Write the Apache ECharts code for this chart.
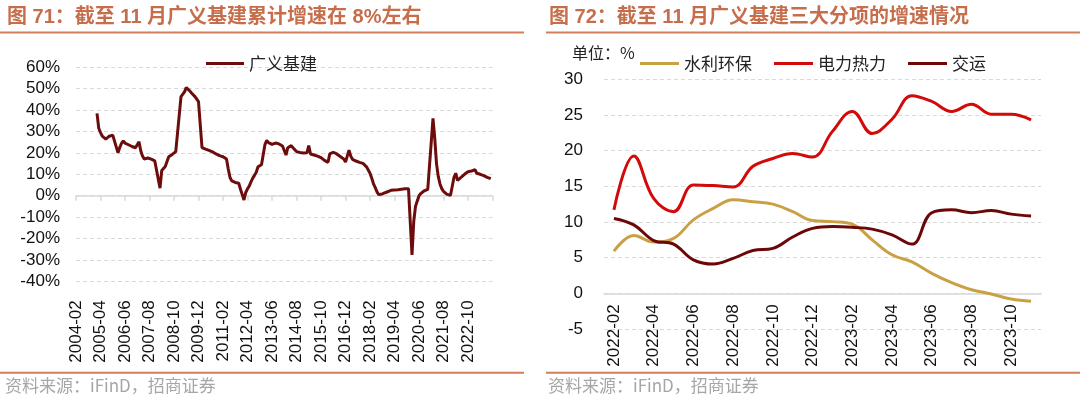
<!DOCTYPE html>
<html>
<head>
<meta charset="utf-8">
<script src="https://cdn.jsdelivr.net/npm/echarts@6/dist/echarts.min.js"></script>
<style>
  html, body { margin: 0; padding: 0; background: #fff; }
  #chart { width: 1080px; height: 398px; }
</style>
</head>
<body>
<div id="chart"></div>
<script>
// left chart: broad infrastructure investment, cumulative yoy (%), monthly 2004-02 .. 2023-12
// January has no cumulative print, so it stays null and the line is joined across it
var infraGrowth = [
    null, null, null, null, null, null, null, null, null, null, null, null,   // 2004-02 .. 2005-01
    38.5, 31.5, 29.5, 27.8, 26.9, 26.4, 26.8, 27.8, 28.0, 28.3, 28.0, null,   // 2005
    20.0, 22.5, 24.5, 25.6, 24.6, 24.0, 23.8, 23.4, 23.0, 22.7, 22.4, null,   // 2006
    25.2, 21.0, 18.5, 17.1, 17.8, 17.6, 17.3, 17.1, 16.8, 16.3, 15.5, null,   // 2007
    3.5, 11.8, 12.5, 13.6, 16.0, 18.2, 19.0, 19.3, 19.8, 20.6, 21.5, null,    // 2008
    46.3, 46.0, 48.5, 50.5, 50.0, 49.0, 48.0, 47.2, 46.3, 45.5, 44.0, null,   // 2009
    22.5, 22.0, 21.8, 21.6, 21.2, 20.8, 20.5, 20.0, 19.5, 19.0, 18.7, null,   // 2010
    18.2, 17.8, 17.1, 12.5, 8.5, 6.9, 6.5, 6.2, 6.0, 5.8, 3.0, null,          // 2011
    -2.0, 1.5, 3.2, 4.5, 6.5, 8.2, 9.5, 11.0, 13.5, 14.2, 14.5, null,         // 2012
    24.0, 25.8, 24.8, 24.3, 24.0, 24.2, 24.6, 25.0, 24.2, 23.5, 23.2, null,   // 2013
    19.0, 22.4, 23.2, 23.4, 22.4, 21.5, 20.6, 20.4, 20.2, 20.1, 20.0, null,   // 2014
    20.1, 23.4, 19.5, 19.2, 19.0, 18.7, 18.5, 18.2, 17.8, 17.0, 16.5, null,   // 2015
    15.6, 19.5, 20.2, 20.3, 20.4, 19.5, 18.8, 18.3, 17.8, 17.2, 15.7, null,   // 2016
    21.3, 18.5, 17.0, 16.5, 16.2, 15.9, 15.6, 15.3, 15.1, 14.5, 13.5, null,   // 2017
    10.5, 8.2, 5.5, 3.8, 1.8, 0.5, 0.3, 0.8, 1.2, 1.5, 1.8, null,             // 2018
    2.5, 2.8, 2.7, 2.7, 2.8, 2.9, 3.0, 3.1, 3.2, 3.4, 3.3, null,              // 2019
    -27.7, -12.0, -5.0, -2.5, 0.0, 1.0, 1.8, 2.3, 2.7, 3.0, 3.5, null,        // 2020
    36.1, 26.8, 15.0, 9.0, 5.5, 3.3, 2.0, 1.2, 0.6, 0.2, 0.2, null,           // 2021
    8.6, 10.5, 7.2, 7.8, 8.6, 9.3, 10.0, 10.8, 11.2, 11.3, 11.5, null,        // 2022
    12.2, 10.5, 9.8, 10.0, 9.9, 9.4, 9.0, 8.6, 8.3, 8.0, null                 // 2023
];

// right chart: the three sub-sectors, cumulative yoy (%), 2022-02 .. 2023-11
var subMonths = ['2022-02', '2022-03', '2022-04', '2022-05', '2022-06', '2022-07', '2022-08',
    '2022-09', '2022-10', '2022-11', '2022-12', '2023-01', '2023-02', '2023-03', '2023-04',
    '2023-05', '2023-06', '2023-07', '2023-08', '2023-09', '2023-10', '2023-11'];
var waterEnv = [5.9, 8.1, 7.2, 7.7, 10.3, 11.9, 13.1, 12.85, 12.5, 11.45, 10.2,
    10.05, 9.7, 7.5, 5.4, 4.4, 2.8, 1.5, 0.5, -0.1, -0.8, -1.1];
var powerHeat = [11.7, 19.25, 13.3, 11.45, 15.2, 15.1, 14.9, 17.8, 18.9, 19.6, 19.1,
    22.7, 25.5, 22.4, 24.4, 27.7, 26.9, 25.5, 26.5, 25.1, 25.1, 24.3];
var transport = [10.5, 9.6, 7.4, 6.9, 4.7, 4.1, 4.9, 6.0, 6.3, 7.9, 9.1,
    9.35, 9.25, 9.0, 8.2, 6.9, 11.3, 11.7, 11.3, 11.6, 11.1, 10.85];

// month labels for the left axis
var infraMonths = [];
for (var k = 0; k < infraGrowth.length; k++) {
    var m = (k + 1) % 12 + 1;
    var y = 2004 + Math.floor((k + 1) / 12);
    infraMonths.push(y + '-' + (m < 10 ? '0' + m : m));
}

var titleColor = '#c66e4b';
var ruleColor = '#d27d5b';
var axisGrey = '#d9d9d9';
var latin = "'Liberation Sans', 'Noto Sans CJK SC', sans-serif";
var cjk = "'Noto Sans CJK SC', sans-serif";

var myChart = echarts.init(document.getElementById('chart'));

// grids 0/2 share the left plot, grids 1/3 the right plot;
// 2 carries the bottom labels of the left chart, 3 the zero line and labels of the right chart
var option = {
    animation: false,
    grid: [
        {left: 76, top: 67.3, width: 416.5, height: 214, outerBoundsMode: 'none'},
        {left: 604, top: 79.3, width: 437, height: 249.7, outerBoundsMode: 'none'},
        {left: 76, top: 67.3, width: 416.5, height: 214, outerBoundsMode: 'none'},
        {left: 604, top: 79.3, width: 437, height: 214, outerBoundsMode: 'none'}
    ],
    xAxis: [
        {
            gridIndex: 0,
            type: 'category',
            data: infraMonths,
            boundaryGap: false,
            axisLine: {onZero: true, lineStyle: {color: axisGrey, width: 1.5}},
            axisTick: {interval: 13, length: 5, lineStyle: {color: axisGrey, width: 1.5}},
            axisLabel: {show: false},
            splitLine: {show: false}
        },
        {
            gridIndex: 1,
            type: 'category',
            data: subMonths,
            boundaryGap: true,
            axisLine: {show: false, onZero: false},
            axisTick: {show: false},
            axisLabel: {show: false},
            splitLine: {show: false}
        },
        {
            gridIndex: 2,
            type: 'category',
            data: infraMonths,
            boundaryGap: false,
            position: 'bottom',
            axisLine: {show: false, onZero: false},
            axisTick: {show: false},
            axisLabel: {
                interval: function (index) {
                    return index % 14 === 0 && index < 238;
                },
                rotate: 90, margin: 19, fontSize: 17, color: '#111', fontFamily: latin
            },
            splitLine: {show: false}
        },
        {
            gridIndex: 3,
            type: 'category',
            data: subMonths,
            boundaryGap: true,
            position: 'bottom',
            axisLine: {onZero: false, lineStyle: {color: axisGrey, width: 1.5}},
            axisTick: {interval: 1, length: 5, lineStyle: {color: axisGrey, width: 1.5}},
            axisLabel: {interval: 1, rotate: 90, margin: 11, fontSize: 17, color: '#111', fontFamily: latin},
            splitLine: {show: false}
        }
    ],
    yAxis: [
        {
            gridIndex: 0,
            type: 'value',
            min: -40, max: 60, interval: 10,
            axisLine: {show: false},
            axisTick: {show: false},
            axisLabel: {formatter: '{value}%', margin: 16, fontSize: 17, color: '#111', fontFamily: latin},
            splitLine: {lineStyle: {color: axisGrey, type: [4, 3]}}
        },
        {
            gridIndex: 1,
            type: 'value',
            min: -5, max: 30, interval: 5,
            axisLine: {show: false},
            axisTick: {show: false},
            axisLabel: {margin: 21, fontSize: 17, color: '#111', fontFamily: latin},
            splitLine: {lineStyle: {color: axisGrey, type: [4, 3]}}
        },
        {gridIndex: 2, type: 'value', min: -40, max: 60, interval: 10, show: false},
        {gridIndex: 3, type: 'value', min: 0, max: 30, interval: 5, show: false}
    ],
    legend: [
        {
            data: ['广义基建'],
            left: 201, top: 50,
            icon: 'rect', itemWidth: 38, itemHeight: 3,
            textStyle: {fontSize: 17, color: '#222', fontFamily: cjk}
        },
        {
            data: ['水利环保', '电力热力', '交运'],
            left: 635, top: 50,
            icon: 'rect', itemWidth: 39, itemHeight: 3, itemGap: 22,
            textStyle: {fontSize: 17, color: '#222', fontFamily: cjk}
        }
    ],
    series: [
        {
            name: '广义基建',
            type: 'line',
            xAxisIndex: 0, yAxisIndex: 0,
            data: infraGrowth,
            connectNulls: true,
            showSymbol: false,
            color: '#6c0c0c',
            lineStyle: {width: 3, color: '#6c0c0c'}
        },
        {
            name: '水利环保',
            type: 'line',
            xAxisIndex: 1, yAxisIndex: 1,
            data: waterEnv,
            smooth: 0.4,
            showSymbol: false,
            color: '#c9a043',
            lineStyle: {width: 3, color: '#c9a043'}
        },
        {
            name: '电力热力',
            type: 'line',
            xAxisIndex: 1, yAxisIndex: 1,
            data: powerHeat,
            smooth: 0.4,
            showSymbol: false,
            color: '#d20a0a',
            lineStyle: {width: 3, color: '#d20a0a'}
        },
        {
            name: '交运',
            type: 'line',
            xAxisIndex: 1, yAxisIndex: 1,
            data: transport,
            smooth: 0.4,
            showSymbol: false,
            color: '#6c0707',
            lineStyle: {width: 3, color: '#6c0707'}
        }
    ],
    graphic: [
        // titles and the rules around each panel
        {type: 'text', left: 7, top: 7, style: {text: '图 71：截至 11 月广义基建累计增速在 8%左右', font: 'bold 20px ' + latin, fill: titleColor}},
        {type: 'text', left: 549, top: 7, style: {text: '图 72：截至 11 月广义基建三大分项的增速情况', font: 'bold 20px ' + latin, fill: titleColor}},
        {type: 'rect', shape: {x: 0, y: 31.5, width: 524, height: 2}, style: {fill: ruleColor}},
        {type: 'rect', shape: {x: 546, y: 31.5, width: 534, height: 2}, style: {fill: ruleColor}},
        {type: 'rect', shape: {x: 0, y: 371.8, width: 524, height: 2}, style: {fill: ruleColor}},
        {type: 'rect', shape: {x: 546, y: 371.8, width: 534, height: 2}, style: {fill: ruleColor}},
        {type: 'text', left: 572, top: 45, style: {text: '单位：%', font: '16px ' + cjk, fill: '#222'}},
        {type: 'text', left: 5, top: 377, style: {text: '资料来源：iFinD，招商证券', font: '17px ' + cjk, fill: '#a6a6a6'}},
        {type: 'text', left: 548, top: 377, style: {text: '资料来源：iFinD，招商证券', font: '17px ' + cjk, fill: '#a6a6a6'}}
    ]
};

option && myChart.setOption(option);
window.addEventListener('resize', myChart.resize);
</script>
</body>
</html>
